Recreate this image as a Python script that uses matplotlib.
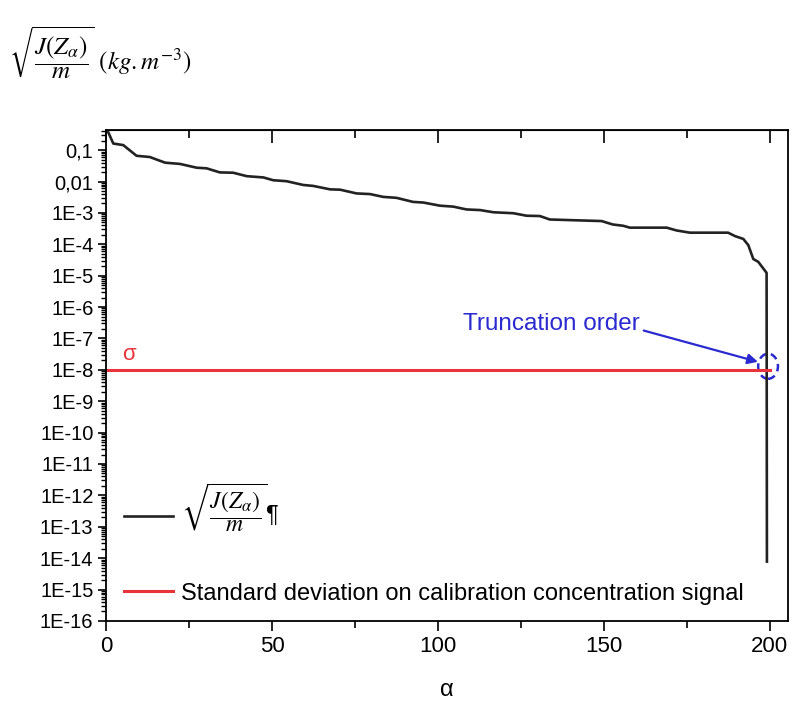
import numpy as np
import matplotlib
matplotlib.use("Agg")
import matplotlib.pyplot as plt
from matplotlib.patches import Ellipse
from matplotlib.ticker import FixedLocator, LogLocator, MultipleLocator, NullFormatter

plt.rcParams['font.family'] = ['Liberation Sans', 'DejaVu Sans']
plt.rcParams['mathtext.fontset'] = 'stix'

# curve: sqrt(J(Z_alpha)/m) against alpha
alpha = [0, 2.2, 5.2, 9.2, 13.2, 17.8, 22.3, 27.3, 30.3, 34.3, 38.3, 42.4, 47.4,
         50.4, 54.4, 59.4, 62.4, 67.5, 70.5, 75.5, 79.5, 83.5, 87.5, 92.5, 95.6,
         100.6, 104.6, 108.6, 112.7, 116.7, 122.7, 126.7, 130.7, 133.7, 139.8,
         149.3, 152.7, 155.8, 157.8, 168.9, 171.9, 175.9, 180.9, 187.4, 189.5,
         192.0, 193.5, 195.0, 196.5, 198.0, 199.0, 199.1]
log_j = [-0.27, -0.79, -0.84, -1.18, -1.22, -1.40, -1.44, -1.56, -1.58, -1.71,
         -1.72, -1.83, -1.87, -1.96, -1.99, -2.11, -2.14, -2.25, -2.26, -2.38,
         -2.40, -2.49, -2.52, -2.65, -2.67, -2.77, -2.80, -2.89, -2.91, -2.98,
         -3.01, -3.09, -3.10, -3.21, -3.23, -3.26, -3.37, -3.41, -3.47, -3.47,
         -3.56, -3.63, -3.63, -3.63, -3.74, -3.83, -4.03, -4.47, -4.56, -4.77,
         -4.91, -14.11]
j_vals = [10 ** v for v in log_j]

sigma = 1e-8
sigma_range = [0, 200]

ytick_vals = [10.0 ** -k for k in range(1, 17)]
ytick_labels = ['0,1', '0,01'] + ['1E-%d' % k for k in range(3, 17)]
xtick_vals = [0, 50, 100, 150, 200]

fig = plt.figure(figsize=(7.91, 7.04), dpi=100)
ax = fig.add_axes([0.134, 0.118, 0.862, 0.697])

ax.plot(alpha, j_vals, color='#222222', lw=1.9,
        label=r'$\sqrt{\dfrac{J(Z_\alpha)}{m}}$¶')
ax.plot(sigma_range, [sigma, sigma], color='#e8333c', lw=2.2,
        label='Standard deviation on calibration concentration signal')

ax.set_yscale('log')
ax.set_ylim(1e-16, 0.43)
ax.set_xlim(0, 205.4)

ax.yaxis.set_major_locator(FixedLocator(ytick_vals))
ax.set_yticklabels(ytick_labels)
ax.yaxis.set_minor_locator(LogLocator(base=10, subs=np.arange(2, 10), numticks=100))
ax.yaxis.set_minor_formatter(NullFormatter())
ax.xaxis.set_major_locator(FixedLocator(xtick_vals))
ax.xaxis.set_minor_locator(MultipleLocator(25))

ax.tick_params(axis='x', which='major', direction='out', length=7, width=1.2,
               labelsize=16, top=False)
ax.tick_params(axis='x', which='minor', direction='out', length=5, width=1.2, top=False)
ax.tick_params(axis='y', which='major', direction='out', length=6, width=1.2,
               labelsize=14.5, right=False, pad=3)
ax.tick_params(axis='y', which='minor', direction='out', length=3.5, width=1, right=False)

# inward ticks along the top edge
top = ax.secondary_xaxis('top')
top.xaxis.set_major_locator(FixedLocator(xtick_vals))
top.xaxis.set_minor_locator(MultipleLocator(25))
top.tick_params(which='major', direction='in', length=9, width=1.2, labeltop=False)
top.tick_params(which='minor', direction='in', length=6, width=1.2)

for s in ax.spines.values():
    s.set_linewidth(1.3)

ax.set_xlabel('α', fontsize=17, labelpad=16)
fig.text(0.012, 0.925, r'$\sqrt{\dfrac{J(Z_\alpha)}{m}}\ (kg.m^{-3})$', fontsize=18,
         va='center', ha='left')

ax.text(5.0, 1.4e-8, 'σ', color='#e8333c', fontsize=16, va='bottom')

ax.annotate('Truncation order', xy=(196.4, 1.8e-8), xytext=(107.5, 2.9e-7),
            color='#2a2ad0', fontsize=17.5, va='center', ha='left',
            arrowprops=dict(arrowstyle='-|>', color='#2a2ad0', lw=1.6,
                            relpos=(1.0, 0.25), shrinkA=1, shrinkB=0,
                            mutation_scale=15))
ax.add_patch(Ellipse((0.971, 0.519), 0.029, 0.051, transform=ax.transAxes,
                     fill=False, ec='#2a2ad0', lw=1.8, ls=(0, (3, 2))))

ax.legend(loc='lower left', bbox_to_anchor=(-0.005, -0.01), frameon=False,
          fontsize=17, handlelength=2.1, labelspacing=2.0, handletextpad=0.3)

fig.savefig('out.png', dpi=100)
